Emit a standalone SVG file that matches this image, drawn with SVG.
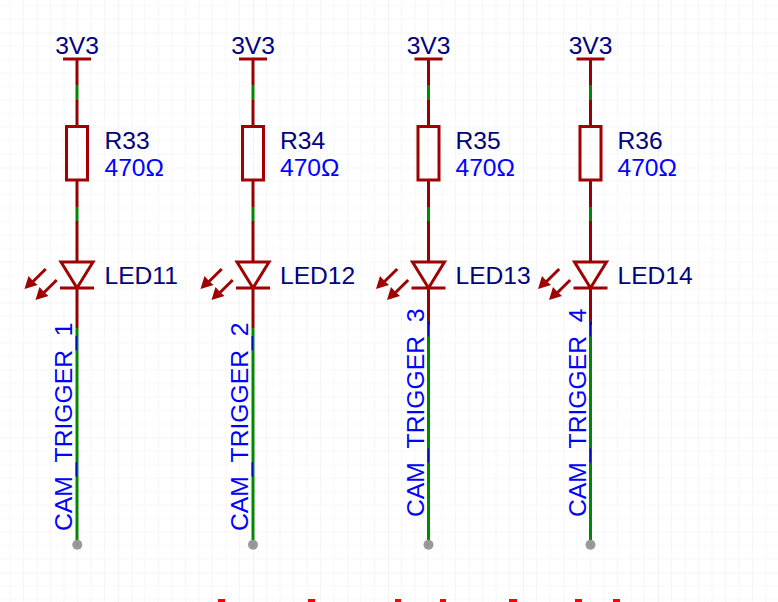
<svg xmlns="http://www.w3.org/2000/svg" width="778" height="602" viewBox="0 0 778 602">
<style>
.t{font-family:"Liberation Sans",Arial,sans-serif;font-size:24.6px}
.n{fill:#000080}.v,.net{fill:#0000ff}.net{font-size:24.7px}
.r{fill:none;stroke:#990000;stroke-width:3}
.rl{fill:none;stroke:#a00000;stroke-width:3}
.g{fill:none;stroke:#008800;stroke-width:3}
</style>
<defs>
<pattern id="grid" x="-17" y="32.5" width="135" height="135" patternUnits="userSpaceOnUse">
<path d="M13.5 0V135M27 0V135M40.5 0V135M54 0V135M67.5 0V135M81 0V135M94.5 0V135M108 0V135M121.5 0V135M0 13.5H135M0 27H135M0 40.5H135M0 54H135M0 67.5H135M0 81H135M0 94.5H135M0 108H135M0 121.5H135" fill="none" stroke="#f6f6f6" stroke-width="1"/>
<path d="M0 0V135M0 0H135" fill="none" stroke="#ebebeb" stroke-width="1.2"/>
</pattern>
<g id="res"><rect class="rl" x="-10.500" y="126.500" width="21" height="53.500"/></g>
<g id="led">
<path class="rl" d="M-16 262H16L0 288ZM-17 288H17"/>
<g id="ar"><path class="rl" d="M-31.300 269L-46 283.500"/><path fill="#a00000" d="M-52.500 289L-48.500 276L-44 281L-39.500 285Z"/></g>
<use href="#ar" x="11" y="11"/>
</g>
<g id="pwr"><path class="rl" d="M-14 59H14"/></g>
</defs>
<rect width="778" height="602" fill="#fff"/>
<rect width="778" height="602" fill="url(#grid)"/>
<g id="clipped-text-tops" fill="#ff0000">
<rect x="218" y="599" width="7" height="3"/><rect x="308" y="599" width="7" height="3"/><rect x="395" y="599" width="6" height="3"/><rect x="440" y="599" width="6" height="3"/><rect x="509" y="599" width="8" height="3"/><rect x="575" y="599" width="7" height="3"/><rect x="613" y="599" width="7" height="3"/>
</g>
<g id="connectors">
<path class="r" d="M77 59V85M77 100V126M77 180V207M77 221V262M77 288V328M253 59V85M253 100V126M253 180V207M253 221V262M253 288V328M428.500 59V85M428.500 100V126M428.500 180V207M428.500 221V262M428.500 288V325M590.500 59V85M590.500 100V126M590.500 180V207M590.500 221V262M590.500 288V325"/>
<path class="g" d="M77 85V100M77 207V221M77 328V541M253 85V100M253 207V221M253 328V541M428.500 85V100M428.500 207V221M428.500 325V541M590.500 85V100M590.500 207V221M590.500 325V541"/>
</g>
<g id="net-labels">
<text class="t net" transform="translate(72.300 531) rotate(-90)">CAM_TRIGGER_1</text>
<text class="t net" transform="translate(248.300 531) rotate(-90)">CAM_TRIGGER_2</text>
<text class="t net" transform="translate(423.800 517) rotate(-90)">CAM_TRIGGER_3</text>
<text class="t net" transform="translate(585.800 517) rotate(-90)">CAM_TRIGGER_4</text>
</g>
<g id="PWR1" transform="translate(77 0)"><use href="#pwr"/><text class="t n" x="0" y="54" text-anchor="middle">3V3</text></g>
<g id="PWR2" transform="translate(253 0)"><use href="#pwr"/><text class="t n" x="0" y="54" text-anchor="middle">3V3</text></g>
<g id="PWR3" transform="translate(428.500 0)"><use href="#pwr"/><text class="t n" x="0" y="54" text-anchor="middle">3V3</text></g>
<g id="PWR4" transform="translate(590.500 0)"><use href="#pwr"/><text class="t n" x="0" y="54" text-anchor="middle">3V3</text></g>
<g id="R33" transform="translate(77 0)"><use href="#res"/><text class="t n" x="27.500" y="149">R33</text><text class="t v" x="27.500" y="176">470Ω</text></g>
<g id="R34" transform="translate(253 0)"><use href="#res"/><text class="t n" x="27" y="149">R34</text><text class="t v" x="27" y="176">470Ω</text></g>
<g id="R35" transform="translate(428.500 0)"><use href="#res"/><text class="t n" x="27" y="149">R35</text><text class="t v" x="27" y="176">470Ω</text></g>
<g id="R36" transform="translate(590.500 0)"><use href="#res"/><text class="t n" x="27" y="149">R36</text><text class="t v" x="27" y="176">470Ω</text></g>
<g id="LED11" transform="translate(77 0)"><use href="#led"/><text class="t n" x="27.500" y="284">LED11</text></g>
<g id="LED12" transform="translate(253 0)"><use href="#led"/><text class="t n" x="27" y="284">LED12</text></g>
<g id="LED13" transform="translate(428.500 0)"><use href="#led"/><text class="t n" x="27" y="284">LED13</text></g>
<g id="LED14" transform="translate(590.500 0)"><use href="#led"/><text class="t n" x="27" y="284">LED14</text></g>
<g id="pins" fill="#999">
<circle cx="77.300" cy="544.700" r="5"/><circle cx="253" cy="544.700" r="5"/><circle cx="428.500" cy="544.700" r="5"/><circle cx="590.500" cy="544.700" r="5"/>
</g>
<g id="pin-centres" fill="#7f9f7f">
<circle cx="77.300" cy="544.700" r="1.500"/><circle cx="253" cy="544.700" r="1.500"/><circle cx="428.500" cy="544.700" r="1.500"/><circle cx="590.500" cy="544.700" r="1.500"/>
</g>
</svg>
